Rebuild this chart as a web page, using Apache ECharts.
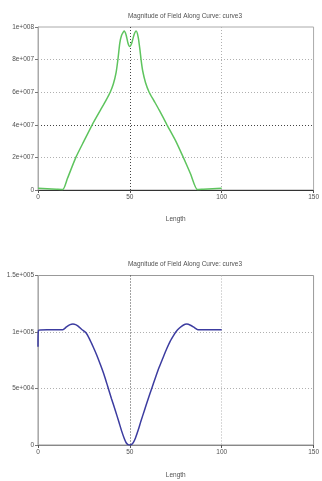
<!DOCTYPE html>
<html>
<head>
<meta charset="utf-8">
<script src="https://cdn.jsdelivr.net/npm/echarts@6/dist/echarts.min.js"></script>
<style>
html,body{margin:0;padding:0;background:#fff;}
#chart{width:322px;height:481px;}
</style>
</head>
<body>
<div id="chart"></div>
<script>
// ---- data ----
var chartTitle = 'Magnitude of Field Along Curve: curve3';
var xAxisName = 'Length';

// Top chart (green)
var topLength = [0, 5, 10, 13.5, 16, 20.6, 25, 29.5, 34, 37, 39.3, 41, 42.5, 43.6, 44.5, 45.5, 46.9, 48, 49, 49.9, 51, 52.2, 53.4, 54.5, 55.5, 56.1, 57, 58.5, 60.5, 63, 66, 70.2, 75, 79.1, 83, 86.7, 90, 95, 100];
var topField = [1.0e6, 0.8e6, 0.5e6, 0.3e6, 7.0e6, 2.0e7, 3.0e7, 4.0e7, 4.9e7, 5.5e7, 6.0e7, 6.5e7, 7.2e7, 8.1e7, 9.0e7, 9.5e7, 9.75e7, 9.5e7, 9.0e7, 8.8e7, 9.0e7, 9.5e7, 9.75e7, 9.4e7, 8.6e7, 8.0e7, 7.3e7, 6.6e7, 6.0e7, 5.5e7, 4.9e7, 4.0e7, 3.0e7, 2.0e7, 1.0e7, 0.3e6, 0.5e6, 0.8e6, 1.0e6];

// Bottom chart (blue)
var bottomLength = [0, 0.3, 5, 10, 13.5, 15.5, 17.5, 19, 20.5, 22, 24, 26, 28, 30, 32, 34, 36, 38, 40, 42, 44, 45.5, 47, 48, 49, 50, 51, 52, 53, 54.5, 56, 58, 60, 62, 64, 66, 68, 70, 72, 74, 75, 77, 79, 81, 83, 85, 87, 90, 95, 100];
var bottomField = [8.7e4, 1.015e5, 1.02e5, 1.02e5, 1.02e5, 1.045e5, 1.065e5, 1.07e5, 1.065e5, 1.05e5, 1.02e5, 9.95e4, 9.4e4, 8.7e4, 7.95e4, 7.1e4, 6.2e4, 5.15e4, 4.1e4, 3.1e4, 2.05e4, 1.25e4, 5.5e3, 2.0e3, 3e2, 0, 5e2, 2.5e3, 6.0e3, 1.3e4, 2.1e4, 3.1e4, 4.1e4, 5.05e4, 6.0e4, 6.9e4, 7.7e4, 8.5e4, 9.2e4, 9.75e4, 1.0e5, 1.035e5, 1.06e5, 1.07e5, 1.06e5, 1.04e5, 1.02e5, 1.02e5, 1.02e5, 1.02e5];

function sci(v) {
  if (v === 0) return '0';
  var e = Math.floor(Math.log10(Math.abs(v)) + 1e-9);
  var m = v / Math.pow(10, e);
  m = Math.round(m * 10) / 10;
  var es = String(Math.abs(e));
  while (es.length < 3) es = '0' + es;
  return m + 'e' + (e < 0 ? '-' : '+') + es;
}
function pairs(xs, ys) { return xs.map(function (x, i) { return [x, ys[i]]; }); }

var FONT = 'Liberation Sans';
var txt = { fontFamily: FONT, fontSize: 6.5, color: '#505050' };
var light = '#b0b0b0', dark = '#444';

var chart = echarts.init(document.getElementById('chart'), null, { renderer: 'canvas' });
chart.setOption({
  animation: false,
  backgroundColor: '#fff',
  title: [
    { text: chartTitle, left: 180, top: 8, textAlign: 'center', textStyle: { fontFamily: FONT, fontSize: 6.5, fontWeight: 'normal', color: '#505050' } },
    { text: chartTitle, left: 180, top: 256, textAlign: 'center', textStyle: { fontFamily: FONT, fontSize: 6.5, fontWeight: 'normal', color: '#505050' } }
  ],
  grid: [
    { left: 38, top: 27, width: 281, height: 163, show: true, borderColor: '#aaa', borderWidth: 1, containLabel: false },
    { left: 38, top: 275.5, width: 277, height: 169.5, show: true, borderColor: '#999', borderWidth: 1, containLabel: false }
  ],
  xAxis: [
    { gridIndex: 0, type: 'value', min: 0, max: 150, interval: 50,
      name: xAxisName, nameLocation: 'middle', nameGap: 25.5, nameTextStyle: txt,
      axisLine: { lineStyle: { color: '#333', width: 1 } },
      axisTick: { show: true, length: 3, lineStyle: { color: '#555' } },
      axisLabel: Object.assign({ margin: 4 }, txt),
      splitLine: { show: true, lineStyle: { type: [1, 2], color: ['transparent', dark, light, 'transparent'] } } },
    { gridIndex: 1, type: 'value', min: 0, max: 150, interval: 50,
      name: xAxisName, nameLocation: 'middle', nameGap: 26.5, nameTextStyle: txt,
      axisLine: { lineStyle: { color: '#888', width: 1 } },
      axisTick: { show: true, length: 3, lineStyle: { color: '#555' } },
      axisLabel: Object.assign({ margin: 4 }, txt),
      splitLine: { show: true, lineStyle: { type: [1, 2], color: ['transparent', dark, light, 'transparent'] } } }
  ],
  yAxis: [
    { gridIndex: 0, type: 'value', min: 0, max: 1e8, interval: 2e7,
      axisLine: { show: true, lineStyle: { color: '#aaa' } },
      axisTick: { show: true, length: 3, lineStyle: { color: '#777' } },
      axisLabel: Object.assign({ margin: 4, formatter: sci }, txt),
      splitLine: { show: true, lineStyle: { type: [1, 2], color: ['transparent', light, dark, light, light, 'transparent'] } } },
    { gridIndex: 1, type: 'value', min: 0, max: 1.5e5, interval: 5e4,
      axisLine: { show: true, lineStyle: { color: '#aaa' } },
      axisTick: { show: true, length: 3, lineStyle: { color: '#777' } },
      axisLabel: Object.assign({ margin: 4, formatter: sci }, txt),
      splitLine: { show: true, lineStyle: { type: [1, 2], color: ['transparent', light, light, 'transparent'] } } }
  ],
  series: [
    { type: 'line', xAxisIndex: 0, yAxisIndex: 0, data: pairs(topLength, topField),
      showSymbol: false, smooth: 0.2,
      lineStyle: { color: '#5ec45e', width: 1.5 }, z: 5 },
    { type: 'line', xAxisIndex: 1, yAxisIndex: 1, data: pairs(bottomLength, bottomField),
      showSymbol: false, smooth: 0.2,
      lineStyle: { color: '#3c3ca0', width: 1.5 }, z: 5 }
  ]
});
</script>
</body>
</html>
